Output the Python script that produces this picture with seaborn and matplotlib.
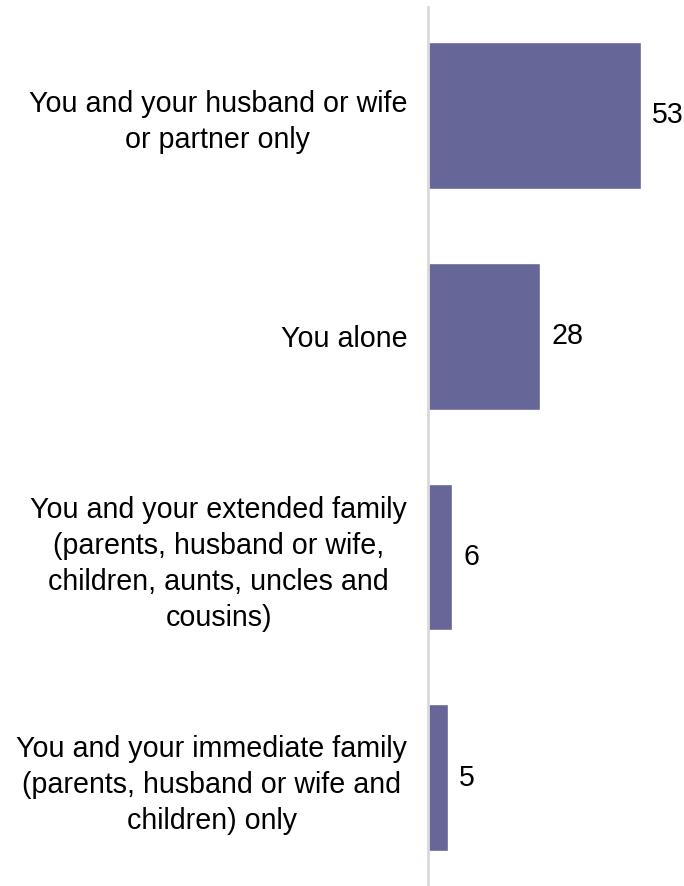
import matplotlib
matplotlib.use("Agg")
import matplotlib.pyplot as plt
import seaborn as sns
import pandas as pd

categories = [
    "You and your husband or wife\nor partner only",
    "You alone",
    "You and your extended family\n(parents, husband or wife,\nchildren, aunts, uncles and\ncousins)",
    "You and your immediate family\n(parents, husband or wife and\nchildren) only",
]
values = [53, 28, 6, 5]

df = pd.DataFrame({"category": categories, "value": values})

sns.set_theme(style="white")
plt.rcParams["font.family"] = ["Liberation Sans", "DejaVu Sans"]

fig = plt.figure(figsize=(6.84, 8.86), dpi=100)
ax = fig.add_axes([0.6257, 0.0, 0.352, 0.992])

sns.barplot(data=df, x="value", y="category", color="#666699",
            saturation=1, width=0.665, ax=ax)

ax.set_xlim(0, 60)
ax.set_ylim(3.49, -0.49)
ax.set_xlabel("")
ax.set_ylabel("")
ax.set_xticks([])
for side in ["top", "right", "bottom"]:
    ax.spines[side].set_visible(False)
ax.spines["left"].set_color("#d9d9d9")
ax.spines["left"].set_linewidth(2)

ax.tick_params(axis="y", length=0, pad=15, labelsize=20.6, labelcolor="#000000")
for t in ax.get_yticklabels():
    t.set_multialignment("center")
    t.set_linespacing(1.36)

for container in ax.containers:
    ax.bar_label(container, labels=[str(v) for v in values], padding=8,
                 fontsize=20.6, color="#000000")

fig.savefig("out.png", dpi=100)
